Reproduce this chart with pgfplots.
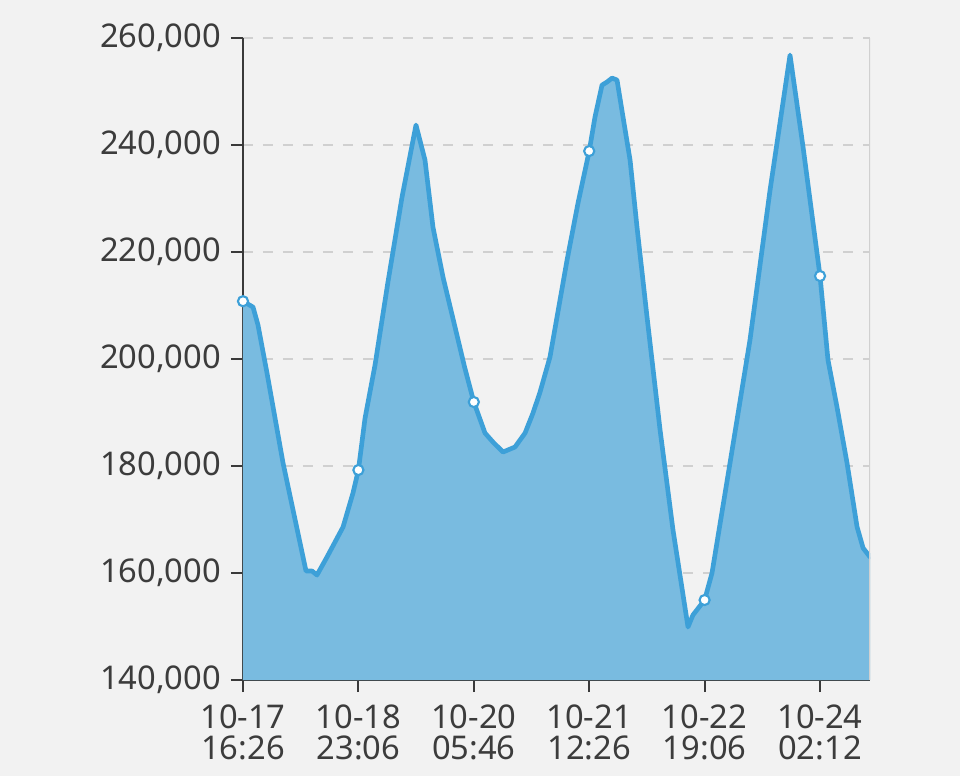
\documentclass[border=0pt]{standalone}
\usepackage{fontspec}
\setmainfont{Noto Sans}
\usepackage{pgfplots}
\pgfplotsset{compat=1.18}
\definecolor{bgc}{HTML}{F2F2F2}
\definecolor{fillc}{HTML}{79BBE0}
\definecolor{linec}{HTML}{3DA0D8}
\definecolor{gridc}{HTML}{D0D0D0}
\definecolor{axc}{HTML}{3A3A3A}
\definecolor{txtc}{HTML}{3C3C3C}
\begin{document}
\begin{tikzpicture}
\fill[bgc] (-182.25pt,-72pt) rectangle (537.75pt,510pt);
\useasboundingbox (-182.25pt,-72pt) rectangle (537.75pt,510pt);
\begin{axis}[
  scale only axis,
  width=470.25pt, height=481.5pt,
  xmin=0, xmax=5.433,
  ymin=140000, ymax=260000,
  ytick={140000,160000,180000,200000,220000,240000,260000},
  xtick={0,1,2,3,4,5},
  xticklabels={{10-17\\16:26},{10-18\\23:06},{10-20\\05:46},{10-21\\12:26},{10-22\\19:06},{10-24\\02:12}},
  scaled y ticks=false,
  /pgf/number format/assume math mode=true,
  yticklabel style={/pgf/number format/fixed, /pgf/number format/1000 sep={,}, xshift=-4pt},
  tick label style={font=\fontsize{24.5}{23.5}\selectfont, text=txtc},
  xticklabel style={align=center, yshift=-6pt},
  axis x line*=bottom, axis y line*=left,
  axis line style={axc, line width=1.6pt, -},
  tick align=outside,
  major tick length=9pt,
  tick style={axc, line width=1.6pt},
  ymajorgrids,
  major grid style={gridc, line width=1.4pt, dash pattern=on 7.5pt off 7.5pt},
  clip=true,
]
\pgfplotstableread{
x y
0 210800
0.087 209700
0.130 206350
0.208 197380
0.347 180560
0.546 160370
0.598 160370
0.641 159620
0.728 162990
0.867 168600
0.953 174950
1.000 179250
1.057 188870
1.144 198870
1.256 214380
1.378 230270
1.499 243730
1.577 237190
1.646 224670
1.733 215320
1.837 205980
1.920 198500
2.000 191960
2.097 186160
2.166 184480
2.253 182610
2.357 183550
2.444 186160
2.513 189900
2.574 193830
2.660 200370
2.747 211020
2.808 218500
2.903 229150
3.000 238870
3.050 245220
3.111 251200
3.154 251770
3.198 252510
3.241 252140
3.293 245220
3.354 237190
3.414 224670
3.501 207850
3.614 186725
3.726 168035
3.856 149905
3.899 152150
4.000 154950
4.064 160000
4.220 180560
4.393 203550
4.567 231580
4.740 256810
4.853 239620
5.000 215510
5.069 199810
5.147 191020
5.234 180560
5.321 168600
5.373 164670
5.433 163000
}\datatable
\pgfplotstableread{
x y
0 210800
1 179250
2 191960
3 238870
4 154950
5 215510
}\marktable
\addplot[draw=none, fill=fillc] table[x=x,y=y] {\datatable} \closedcycle;
\addplot[linec, line width=3.5pt, line join=round, line cap=round] table[x=x,y=y] {\datatable};
\addplot[only marks, mark=*, mark size=3.8pt, mark options={fill=white, draw=linec, line width=1.6pt}] table[x=x,y=y] {\marktable};
\draw[gridc, line width=1.4pt] (rel axis cs:1,0) -- (rel axis cs:1,1);
\end{axis}
\end{tikzpicture}
\end{document}
